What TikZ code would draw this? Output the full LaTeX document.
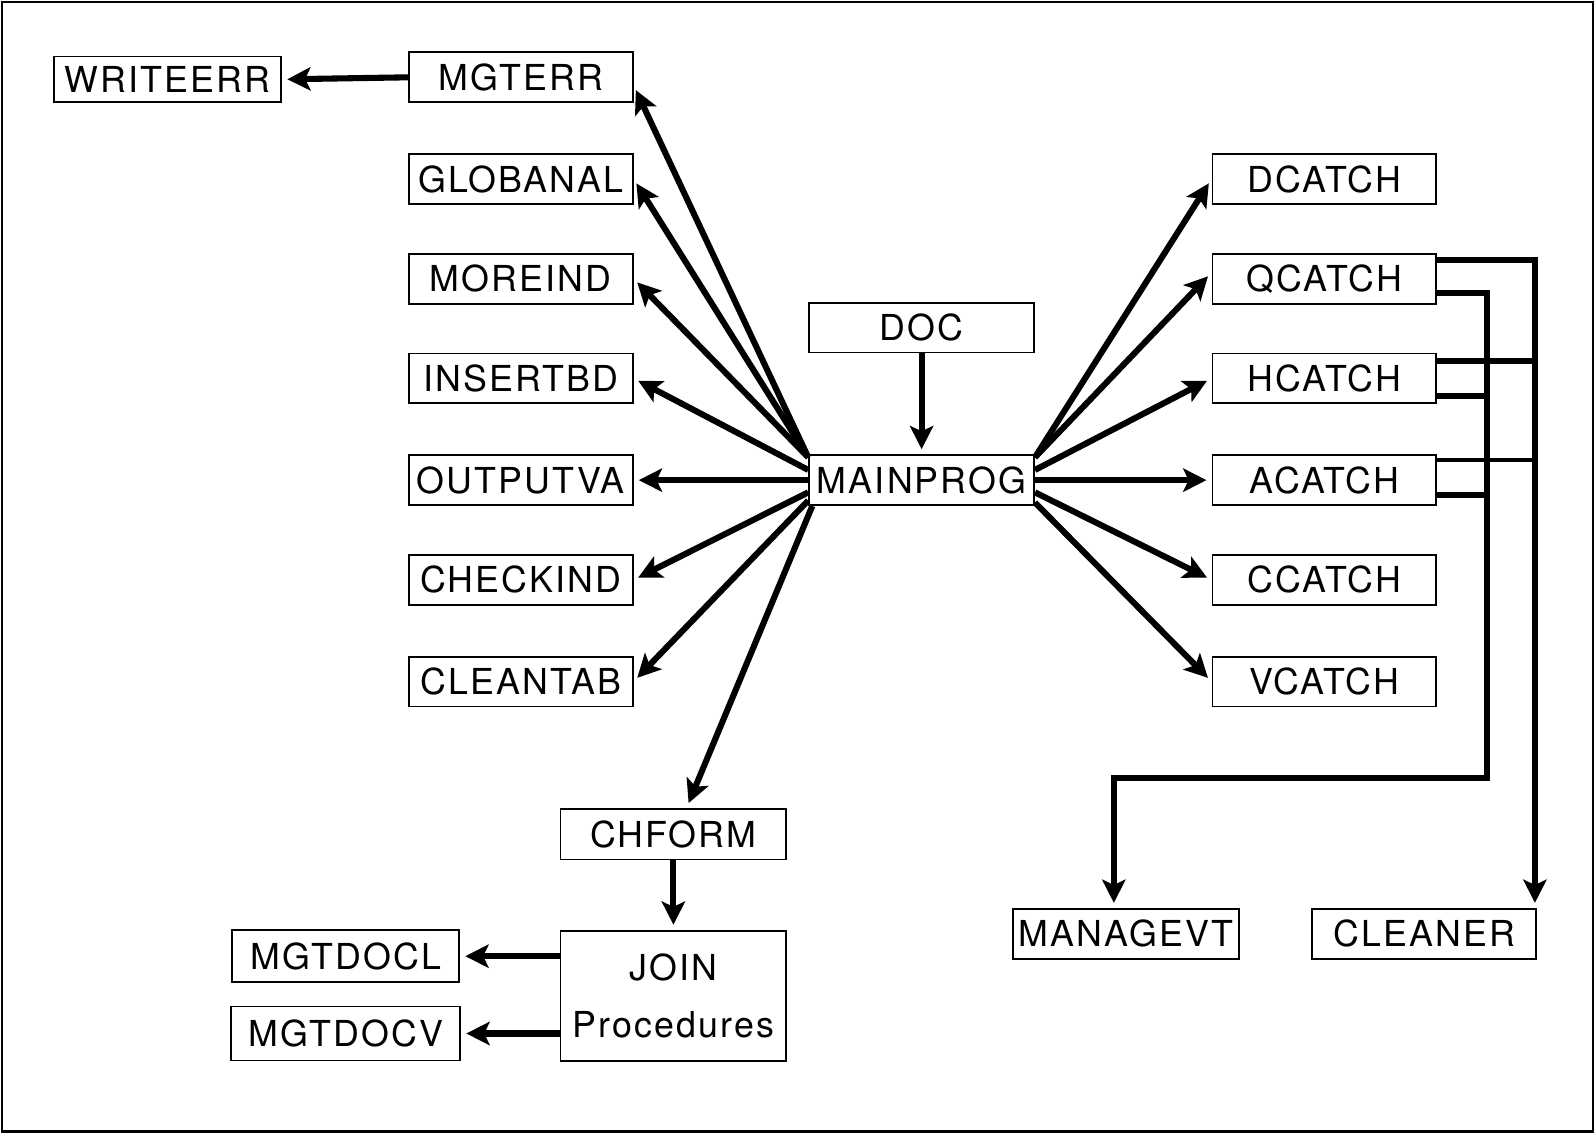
\documentclass[tikz,border=0pt]{standalone}
\usepackage{fontspec}
\newfontfamily\boxfont{TeX Gyre Heros}[LetterSpace=6]
\usetikzlibrary{arrows.meta}

\begin{document}
\begin{tikzpicture}[x=0.01cm,y=-0.01cm,font=\boxfont\fontsize{10}{12}\selectfont,
  box/.style={draw,line width=0.5pt,minimum width=2.2cm,minimum height=0.49cm,inner sep=0pt},
  link/.style={line width=1.7pt},
  arr/.style={link,-{Stealth[length=6.5pt,width=6.5pt,inset=1.5pt]},shorten >=0.5mm}]
  \useasboundingbox (0,0) rectangle (1568,1114);
  \draw[line width=0.8pt] (2,2) rectangle (1566,1112);
  \node[box,minimum width=2.23cm,minimum height=0.45cm] (writeerr) at (165,78) {WRITEERR};
  \node[box] (mgterr) at (512,76) {MGTERR};
  \node[box] (globanal) at (512,176) {GLOBANAL};
  \node[box] (moreind) at (512,274) {MOREIND};
  \node[box] (insertbd) at (512,372) {INSERTBD};
  \node[box] (outputva) at (512,472) {OUTPUTVA};
  \node[box] (checkind) at (512,570) {CHECKIND};
  \node[box] (cleantab) at (512,670) {CLEANTAB};
  \node[box,minimum width=2.21cm] (doc) at (906,322) {DOC};
  \node[box,minimum width=2.21cm] (main) at (906,472) {MAINPROG};
  \node[box] (dcatch) at (1302,176) {DCATCH};
  \node[box] (qcatch) at (1302,274) {QCATCH};
  \node[box] (hcatch) at (1302,372) {HCATCH};
  \node[box] (acatch) at (1302,472) {ACATCH};
  \node[box] (ccatch) at (1302,570) {CCATCH};
  \node[box] (vcatch) at (1302,670) {VCATCH};
  \node[box,minimum width=2.22cm,minimum height=0.5cm] (chform) at (662,820) {CHFORM};
  \node[box,minimum width=2.22cm,minimum height=1.28cm,align=center] (join) at (662,979)
    {JOIN\\[4pt]Procedures};
  \node[box,minimum width=2.23cm,minimum height=0.51cm] (docl) at (340,940) {MGTDOCL};
  \node[box,minimum width=2.25cm,minimum height=0.53cm] (docv) at (340,1016) {MGTDOCV};
  \node[box,minimum width=2.22cm] (managevt) at (1107,918) {MANAGEVT};
  \node[box] (cleaner) at (1400,918) {CLEANER};
  \draw[arr] (mgterr.west) -- (writeerr.east);
  \draw[arr] ([yshift=-0.03cm]main.north west) -- ([yshift=-0.08cm]mgterr.east);
  \draw[arr] ([yshift=-0.03cm]main.north west) -- (globanal.east);
  \draw[arr] ([yshift=-0.03cm]main.north west) -- (moreind.east);
  \draw[arr] ([yshift=0.10cm]main.west) -- (insertbd.east);
  \draw[arr] (main.west) -- (outputva.east);
  \draw[arr] ([yshift=-0.12cm]main.west) -- (checkind.east);
  \draw[arr] ([yshift=-0.20cm]main.west) -- (cleantab.east);
  \draw[arr] ([xshift=0.04cm]main.south west) -- ([xshift=0.13cm]chform.north);
  \draw[arr] (doc) -- (main);
  \draw[arr] (chform) -- (join);
  \draw[arr] (join.west |- docl.east) -- (docl.east);
  \draw[arr] (join.west |- docv.east) -- (docv.east);
  \draw[arr] ([yshift=-0.03cm]main.north east) -- (dcatch.west);
  \draw[arr] ([yshift=-0.03cm]main.north east) -- ([yshift=0.06cm]qcatch.west);
  \draw[arr] ([yshift=0.10cm]main.east) -- (hcatch.west);
  \draw[arr] (main.east) -- (acatch.west);
  \draw[arr] ([yshift=-0.12cm]main.east) -- (ccatch.west);
  \draw[arr] ([yshift=-0.22cm]main.east) -- (vcatch.west);
  \coordinate (rbus) at ([xshift=-0.02cm]cleaner.north east);
  \coordinate (ibus) at (1462,765);
  \coordinate (h1) at ([yshift=0.17cm]hcatch.east);
  \coordinate (a1) at ([yshift=0.20cm]acatch.east);
  \coordinate (h2) at ([yshift=-0.17cm]hcatch.east);
  \coordinate (a2) at ([yshift=-0.15cm]acatch.east);
  \draw[arr] ([yshift=0.18cm]qcatch.east) -| (rbus);
  \draw[link] (h1) -- (h1 -| rbus);
  \draw[line width=1.1pt] (a1) -- (a1 -| rbus);
  \draw[arr] ([yshift=-0.14cm]qcatch.east) -| (ibus) -| ([xshift=-0.12cm]managevt.north);
  \draw[link] (h2) -- (h2 -| ibus);
  \draw[link] (a2) -- (a2 -| ibus);
\end{tikzpicture}
\end{document}
